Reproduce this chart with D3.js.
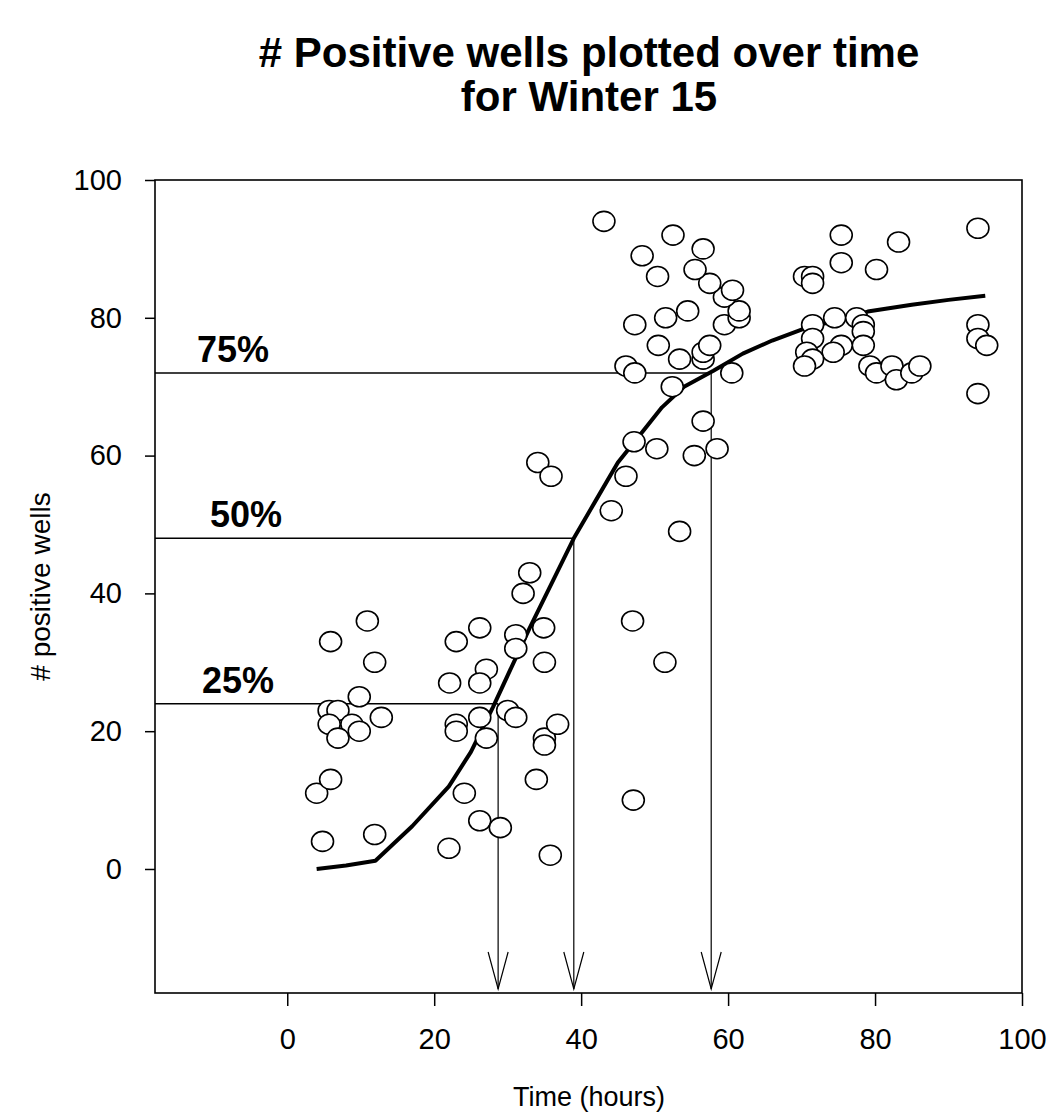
<!DOCTYPE html>
<html>
<head>
<meta charset="utf-8">
<script src="https://cdn.jsdelivr.net/npm/d3@7"></script>
<style>
  body { margin: 0; background: #fff; }
  text { font-family: Arial, "Liberation Sans", sans-serif; fill: #000; }
</style>
</head>
<body>
<div id="chart"></div>
<script>
'use strict';

var width = 1054;
var height = 1119;
var margin = {top: 180, right: 32, bottom: 126, left: 155};

// observed points: time (hours) and # positive wells
var timeHours = [
  4, 4.8, 5.9, 5.9, 5.7, 6.9, 5.7, 8.8, 9.8, 6.9, 12.8, 9.8, 10.9, 11.9, 11.9,
  23, 22.1, 23, 23, 22, 24.1, 26.2, 29, 26.2, 27.1, 26.2, 26.2, 27.1, 30, 31.1,
  31.1, 31.1, 32.1, 33, 34.1, 35.9, 34.9, 35, 35, 35, 36.8, 33.9, 35.8,
  44.1, 46.1, 47, 47.1, 51.4, 53.4, 55.4, 47.2, 50.3, 58.5, 56.6, 52.4, 46.1, 47.3,
  60.5, 53.4, 56.6, 56.6, 50.5, 57.5, 47.3, 51.5, 54.5, 59.5, 61.5, 61.5, 59.5,
  60.6, 57.5, 50.4, 55.5, 48.3, 56.6, 52.5, 43.1,
  70.4, 71.5, 71.5, 75.4, 75.4, 80.2, 83.2, 94,
  71.5, 74.5, 77.5, 78.4, 78.4, 78.4, 71.5, 75.4, 74.3, 70.7, 71.5, 70.4, 79.3,
  80.2, 82.3, 82.9, 85, 86.1, 94, 94, 95.2, 94
];
var positiveWells = [
  11, 4, 33, 13, 23, 23, 21, 21, 20, 19, 22, 25, 36, 30, 5,
  33, 27, 21, 20, 3, 11, 7, 6, 35, 29, 27, 22, 19, 23, 22,
  34, 32, 40, 43, 59, 57, 35, 30, 19, 18, 21, 13, 2,
  52, 57, 36, 10, 30, 49, 60, 62, 61, 61, 65, 70, 73, 72,
  72, 74, 74, 75, 76, 76, 79, 80, 81, 79, 80, 81, 83,
  84, 85, 86, 87, 89, 90, 92, 94,
  86, 86, 85, 92, 88, 87, 91, 93,
  79, 80, 80, 79, 78, 76, 77, 76, 75, 75, 74, 73, 73,
  72, 73, 71, 72, 73, 79, 77, 76, 69
];

// fitted curve
var curveX = [4, 8, 12, 17, 22, 25, 28, 33, 39, 42, 45, 48, 51, 54, 58, 62, 66, 70, 75, 79, 85, 90, 95];
var curveY = [0, 0.5, 1.2, 6.2, 12, 17, 23.5, 35, 48, 53.5, 59, 63, 67, 70, 72.3, 74.8, 76.7, 78.3, 79.7, 80.9, 81.9, 82.6, 83.2];

// percentile markers
var pctLabels = ['75%', '50%', '25%'];
var pctWells = [72, 48, 24];
var pctTimes = [57.7, 39, 28.7];

var xTicks = [0, 20, 40, 60, 80, 100];
var yTicks = [0, 20, 40, 60, 80, 100];

var svg = d3.select('#chart').
  append('svg').
  attr('width', width).
  attr('height', height);

var x = d3.scaleLinear().domain([-18, 100]).range([margin.left, width - margin.right]);
var y = d3.scaleLinear().domain([-18, 100]).range([height - margin.bottom, margin.top]);

// title
svg.append('text').
  attr('x', 589).attr('y', 67).
  attr('text-anchor', 'middle').
  style('font-size', '42px').style('font-weight', 'bold').
  text('# Positive wells plotted over time');
svg.append('text').
  attr('x', 589).attr('y', 111).
  attr('text-anchor', 'middle').
  style('font-size', '42px').style('font-weight', 'bold').
  text('for Winter 15');

// axes
var xAxis = svg.append('g').
  attr('transform', 'translate(0,' + (height - margin.bottom) + ')').
  call(d3.axisBottom(x).tickValues(xTicks).tickSize(13).tickSizeOuter(0).tickPadding(22));
var yAxis = svg.append('g').
  attr('transform', 'translate(' + margin.left + ',0)').
  call(d3.axisLeft(y).tickValues(yTicks).tickSize(10).tickSizeOuter(0).tickPadding(23));

[xAxis, yAxis].forEach(function (g) {
  g.select('.domain').remove();
  g.selectAll('line').attr('stroke', '#000').attr('stroke-width', 1.5);
  g.selectAll('text').style('font-size', '29px').style('font-family', 'Arial, "Liberation Sans", sans-serif');
});

// frame
svg.append('rect').
  attr('x', margin.left).attr('y', margin.top).
  attr('width', width - margin.left - margin.right).
  attr('height', height - margin.top - margin.bottom).
  attr('fill', 'none').attr('stroke', '#000').attr('stroke-width', 1.6);

// axis titles
svg.append('text').
  attr('x', 589).attr('y', 1106).
  attr('text-anchor', 'middle').
  style('font-size', '27px').
  text('Time (hours)');
svg.append('text').
  attr('transform', 'translate(50,' + ((margin.top + height - margin.bottom) / 2) + ') rotate(-90)').
  attr('text-anchor', 'middle').
  style('font-size', '28px').
  text('# positive wells');

// percentile lines and arrows
var labelOffsets = [42, 55, 47];
pctLabels.forEach(function (lab, i) {
  var px = x(pctTimes[i]);
  var py = y(pctWells[i]);
  var bottom = height - margin.bottom;
  svg.append('line').
    attr('x1', margin.left).attr('x2', px).
    attr('y1', py).attr('y2', py).
    attr('stroke', '#000').attr('stroke-width', 1.5);
  svg.append('line').
    attr('x1', px).attr('x2', px).
    attr('y1', py).attr('y2', bottom - 4).
    attr('stroke', '#000').attr('stroke-width', 1.2);
  svg.append('path').
    attr('d', 'M' + (px - 10) + ',' + (bottom - 41) + 'L' + px + ',' + (bottom - 4) + 'L' + (px + 10) + ',' + (bottom - 41)).
    attr('fill', 'none').attr('stroke', '#000').attr('stroke-width', 1.2);
  svg.append('text').
    attr('x', margin.left + labelOffsets[i]).attr('y', py - 11).
    style('font-size', '36px').style('font-weight', 'bold').
    text(lab);
});

// fitted curve
var line = d3.line().
  x(function (d, i) { return x(curveX[i]); }).
  y(function (d, i) { return y(curveY[i]); });
svg.append('path').
  datum(curveX).
  attr('d', line).
  attr('fill', 'none').
  attr('stroke', '#000').
  attr('stroke-width', 4).
  attr('stroke-linejoin', 'round');

// data points
svg.selectAll('ellipse.pt').
  data(timeHours).
  enter().
  append('ellipse').
  attr('class', 'pt').
  attr('cx', function (d) { return x(d); }).
  attr('cy', function (d, i) { return y(positiveWells[i]); }).
  attr('rx', 11).
  attr('ry', 10).
  attr('fill', '#fff').
  attr('stroke', '#000').
  attr('stroke-width', 1.6);
</script>
</body>
</html>
